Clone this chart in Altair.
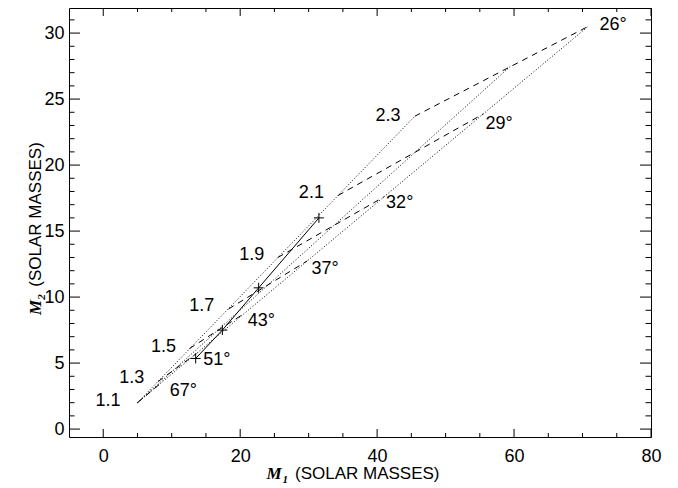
import altair as alt
import pandas as pd

# ---------------- values ----------------
incl_labels = ["67°", "51°", "43°", "37°", "32°", "29°", "26°"]
ratio_labels = ["1.1", "1.3", "1.5", "1.7", "1.9", "2.1", "2.3"]

# dashed lines (one per inclination): upper-left end -> lower-right end
dash_m1_start = [5.0, 8.0, 12.6, 18.3, 25.5, 34.3, 45.5]
dash_m2_start = [2.0, 3.6, 6.1, 9.1, 13.0, 17.7, 23.7]
dash_m1_end = [8.3, 13.6, 20.6, 29.8, 41.0, 55.5, 70.8]
dash_m2_end = [3.43, 5.72, 8.76, 12.74, 17.59, 23.87, 30.5]

# dotted lines: from the lower-left corner up to the 26° line
dot_names = ["upper", "middle", "lower"]
dot_m1_start = [5.0, 5.0, 5.0]
dot_m2_start = [2.0, 2.0, 2.0]
dot_m1_end = [45.5, 59.5, 70.8]
dot_m2_end = [23.7, 27.5, 30.5]

# solid line with plus markers
sol_m1 = [13.5, 17.4, 22.7, 31.5]
sol_m2 = [5.35, 7.5, 10.7, 16.0]

# label positions (data units)
ratio_lab_m1 = [0.7, 4.15, 8.8, 14.4, 21.7, 30.4, 41.6]
ratio_lab_m2 = [2.1, 3.85, 6.25, 9.3, 13.2, 17.9, 23.7]
incl_lab_m1 = [11.7, 16.6, 23.1, 32.4, 43.3, 57.8, 74.45]
incl_lab_m2 = [2.9, 5.2, 8.2, 12.1, 17.1, 23.15, 30.6]

# axes
x_domain = [-5, 80]
y_domain = [-0.6, 31.9]
x_major = [0, 20, 40, 60, 80]
x_minor = [5, 10, 15, 25, 30, 35, 45, 50, 55, 65, 70, 75]
y_major = [0, 5, 10, 15, 20, 25, 30]
y_minor = [1, 2, 3, 4, 6, 7, 8, 9, 11, 12, 13, 14, 16, 17, 18, 19,
           21, 22, 23, 24, 26, 27, 28, 29, 31]

# ---------------- chart ----------------
W, H = 582, 429
FONT = "Liberation Sans"
SERIF = "Liberation Serif"

xs = alt.Scale(domain=x_domain, nice=False, zero=False)
ys = alt.Scale(domain=y_domain, nice=False, zero=False)

rows = []
for k in range(len(incl_labels)):
    rows.append({"line": incl_labels[k], "o": 0, "m1": dash_m1_start[k], "m2": dash_m2_start[k]})
    rows.append({"line": incl_labels[k], "o": 1, "m1": dash_m1_end[k], "m2": dash_m2_end[k]})
dash_df = pd.DataFrame(rows)

rows = []
for k in range(len(dot_names)):
    rows.append({"line": dot_names[k], "o": 0, "m1": dot_m1_start[k], "m2": dot_m2_start[k]})
    rows.append({"line": dot_names[k], "o": 1, "m1": dot_m1_end[k], "m2": dot_m2_end[k]})
dot_df = pd.DataFrame(rows)

sol_df = pd.DataFrame({"m1": sol_m1, "m2": sol_m2, "o": list(range(len(sol_m1)))})
ratio_df = pd.DataFrame({"m1": ratio_lab_m1, "m2": ratio_lab_m2, "t": ratio_labels})
incl_df = pd.DataFrame({"m1": incl_lab_m1, "m2": incl_lab_m2, "t": incl_labels})

x_axis = alt.Axis(values=x_major, ticks=False, domain=False, grid=False, title=None,
                  labelFont=FONT, labelFontSize=18, labelColor="black",
                  labelPadding=10, labelFlush=False, labelOverlap=False, format="d")
y_axis = alt.Axis(values=y_major, ticks=False, domain=False, grid=False, title=None,
                  labelFont=FONT, labelFontSize=18, labelColor="black",
                  labelPadding=5, labelFlush=False, labelOverlap=False, format="d")


def X(field="m1"):
    return alt.X(f"{field}:Q", scale=xs, axis=x_axis)


def Y(field="m2"):
    return alt.Y(f"{field}:Q", scale=ys, axis=y_axis)


dotted = alt.Chart(dot_df).mark_line(color="black", strokeWidth=1, strokeDash=[1, 2]).encode(
    x=X(), y=Y(), detail="line:N", order="o:Q")

dashed = alt.Chart(dash_df).mark_line(color="black", strokeWidth=1, strokeDash=[6, 5]).encode(
    x=X(), y=Y(), detail="line:N", order="o:Q")

solid = alt.Chart(sol_df).mark_line(color="black", strokeWidth=1).encode(
    x=X(), y=Y(), order="o:Q")

plus = alt.Chart(sol_df).mark_point(shape="M-1,0L1,0M0,-1L0,1", size=100, filled=False,
                                    color="black", strokeWidth=1, opacity=1).encode(x=X(), y=Y())

rlab = alt.Chart(ratio_df).mark_text(font=FONT, fontSize=18, color="black").encode(
    x=X(), y=Y(), text="t:N")
ilab = alt.Chart(incl_df).mark_text(font=FONT, fontSize=18, color="black").encode(
    x=X(), y=Y(), text="t:N")


def xt(vals, a, b):
    return alt.Chart(pd.DataFrame({"m1": vals})).mark_rule(color="black", strokeWidth=1).encode(
        x=X(), y=alt.value(a), y2=alt.value(b))


def yt(vals, a, b):
    return alt.Chart(pd.DataFrame({"m2": vals})).mark_rule(color="black", strokeWidth=1).encode(
        y=Y(), x=alt.value(a), x2=alt.value(b))


ticks = [
    xt(x_major, H, H - 8), xt(x_minor, H, H - 4), xt(x_major, 0, 8), xt(x_minor, 0, 4),
    yt(y_major, 0, 11), yt(y_minor, 0, 5.5), yt(y_major, W, W - 11), yt(y_minor, W, W - 5.5),
]

one = pd.DataFrame({"a": [0]})


def ttl(text, x, y, **kw):
    return alt.Chart(one).mark_text(text=text, **kw).encode(x=alt.value(x), y=alt.value(y))


titles = [
    # x title
    ttl("M", 197.5, 471, font=SERIF, fontSize=17, fontStyle="italic", fontWeight="bold",
        align="left", baseline="alphabetic", color="black"),
    ttl("1", 213.5, 474.5, font=SERIF, fontSize=11, fontStyle="italic", fontWeight="bold",
        align="left", baseline="alphabetic", color="black"),
    ttl("(SOLAR MASSES)", 226, 471, font=FONT, fontSize=17,
        align="left", baseline="alphabetic", color="black"),
    # y title (rotated)
    ttl("M", -28, 307, font=SERIF, fontSize=17, fontStyle="italic", fontWeight="bold",
        align="left", baseline="alphabetic", angle=270, color="black"),
    ttl("2", -24.5, 291.7, font=SERIF, fontSize=11, fontStyle="italic", fontWeight="bold",
        align="left", baseline="alphabetic", angle=270, color="black"),
    ttl("(SOLAR MASSES)", -28, 278.7, font=FONT, fontSize=17,
        align="left", baseline="alphabetic", angle=270, color="black"),
]

chart = alt.layer(dotted, dashed, solid, plus, rlab, ilab, *ticks, *titles).properties(
    width=W, height=H,
    autosize=alt.AutoSizeParams(type="none"),
    padding={"left": 61, "top": 0, "right": 18, "bottom": 50},
    background="white",
).configure_view(stroke="black", strokeWidth=1)

chart.save("out.html", embed_options={"renderer": "svg", "actions": False})
